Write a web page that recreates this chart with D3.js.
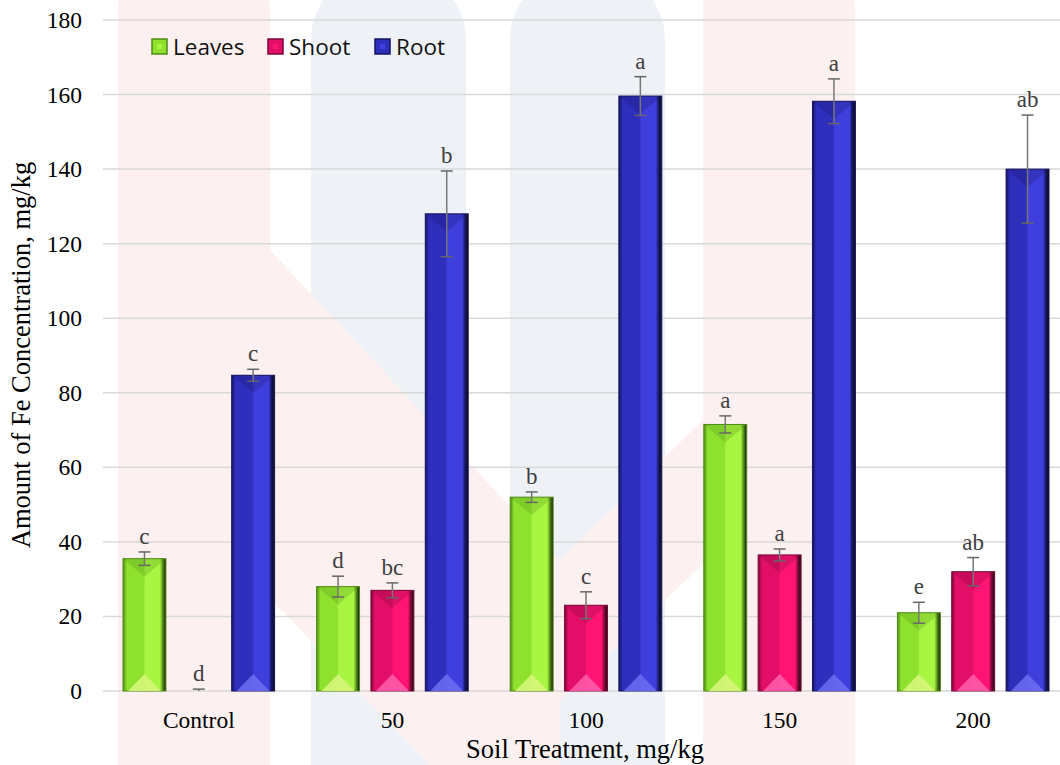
<!doctype html>
<html lang="en">
<head>
<meta charset="UTF-8" />
<title>Fe concentration</title>
<style>
    body { margin: 0; background: #fff; }
    #chart-container { position: relative; }
    .tick-label { font-family: 'Liberation Serif', 'Times New Roman', serif; font-size: 23.5px; fill: #000; }
    .axis-title { font-family: 'Liberation Serif', 'Times New Roman', serif; font-size: 26.5px; fill: #000; }
    .sig-label { font-family: 'Liberation Serif', 'Times New Roman', serif; font-size: 23px; fill: #404040; }
    .legend-label { font-family: 'Open Sans', 'Liberation Sans', sans-serif; font-size: 22.5px; fill: #111; }
</style>
<script src="https://d3js.org/d3.v7.min.js"></script>
</head>
<body>
<div id="chart-container"></div>
<script>
var categories = ['Control', '50', '100', '150', '200'];
var series = ['Leaves', 'Shoot', 'Root'];
var leaves = [35.5, 28, 52, 71.5, 21];
var shoot = [0, 27, 23, 36.5, 32];
var root = [84.7, 128, 159.6, 158.2, 140];
var leavesErr = [1.8, 2.8, 1.4, 2.3, 2.8];
var shootErr = [0.5, 2, 3.6, 1.6, 3.8];
var rootErr = [1.6, 11.5, 5.2, 6, 14.5];
var leavesSig = ['c', 'd', 'b', 'a', 'e'];
var shootSig = ['d', 'bc', 'c', 'a', 'ab'];
var rootSig = ['c', 'b', 'a', 'a', 'ab'];
var yTicks = [0, 20, 40, 60, 80, 100, 120, 140, 160, 180];

var canvasWidth = 1060;
var canvasHeight = 765;

var colors = {
    Leaves: { base: '#8ee22e', light: '#a8f642', dark: '#4f8a14', tri: '#d6f57a' },
    Shoot: { base: '#e20e68', light: '#ff1474', dark: '#7a0836', tri: '#ff5aa8' },
    Root: { base: '#2f2fbe', light: '#3f3fde', dark: '#14145e', tri: '#6a6af0' }
};

var valuesBySeries = { Leaves: leaves, Shoot: shoot, Root: root };
var errBySeries = { Leaves: leavesErr, Shoot: shootErr, Root: rootErr };
var sigBySeries = { Leaves: leavesSig, Shoot: shootSig, Root: rootSig };

var data = [];
categories.forEach(function (c, i) {
    series.forEach(function (s) {
        data.push({ cat: c, series: s, value: valuesBySeries[s][i], err: errBySeries[s][i], sig: sigBySeries[s][i] });
    });
});

var svg = d3.select('#chart-container')
    .append('svg')
    .attr('width', canvasWidth)
    .attr('height', canvasHeight);

var defs = svg.append('defs');
series.forEach(function (s) {
    var g = defs.append('linearGradient')
        .attr('id', 'grad-' + s)
        .attr('x1', '0%').attr('x2', '100%').attr('y1', '0%').attr('y2', '0%');
    g.append('stop').attr('offset', '0%').attr('stop-color', colors[s].dark);
    g.append('stop').attr('offset', '9%').attr('stop-color', colors[s].base);
    g.append('stop').attr('offset', '48%').attr('stop-color', colors[s].base);
    g.append('stop').attr('offset', '52%').attr('stop-color', colors[s].light);
    g.append('stop').attr('offset', '86%').attr('stop-color', colors[s].light);
    g.append('stop').attr('offset', '93%').attr('stop-color', colors[s].dark);
    g.append('stop').attr('offset', '100%').attr('stop-color', '#111');
});

// faint watermark shapes in the background
var wm = svg.append('g');
wm.append('rect').attr('x', 118).attr('y', -60).attr('width', 152).attr('height', 900).attr('rx', 70).attr('fill', '#fdf0f0');
wm.append('rect').attr('x', 311).attr('y', -30).attr('width', 155).attr('height', 900).attr('rx', 70).attr('fill', '#eef2f7');
wm.append('rect').attr('x', 510).attr('y', -30).attr('width', 155).attr('height', 900).attr('rx', 70).attr('fill', '#eef2f7');
wm.append('rect').attr('x', 703).attr('y', -60).attr('width', 152).attr('height', 900).attr('rx', 70).attr('fill', '#fdf0f0');
wm.append('path').attr('d', 'M118,330 L270,250 L560,560 L560,765 L430,765 L118,440 Z').attr('fill', '#fdf0f0');
wm.append('path').attr('d', 'M855,260 L703,330 L703,420 L560,560 L560,700 L855,420 Z').attr('fill', '#fdf0f0');

var x0 = d3.scaleBand().domain(categories).range([102, 1070]).padding(0);
var x1 = d3.scaleBand().domain(series).range([21, x0.bandwidth() - 21]).paddingInner(0.21);
var y = d3.scaleLinear().domain([0, 180]).range([691, 20]);

// gridlines
svg.append('g').selectAll('line')
    .data(yTicks)
    .enter()
    .append('line')
    .attr('x1', 103).attr('x2', canvasWidth)
    .attr('y1', function (d) { return y(d); })
    .attr('y2', function (d) { return y(d); })
    .attr('stroke', '#d9d9d9')
    .attr('stroke-width', 1.5);

// y tick labels
svg.append('g').selectAll('text')
    .data(yTicks)
    .enter()
    .append('text')
    .attr('class', 'tick-label')
    .attr('x', 82)
    .attr('y', function (d) { return y(d) + 8; })
    .attr('text-anchor', 'end')
    .text(function (d) { return d; });

// category labels
svg.append('g').selectAll('text')
    .data(categories)
    .enter()
    .append('text')
    .attr('class', 'tick-label')
    .attr('x', function (d) { return x0(d) + x0.bandwidth() / 2; })
    .attr('y', 728)
    .attr('text-anchor', 'middle')
    .text(function (d) { return d; });

svg.append('text')
    .attr('class', 'axis-title')
    .attr('x', 585)
    .attr('y', 758)
    .attr('text-anchor', 'middle')
    .text('Soil Treatment, mg/kg');

svg.append('text')
    .attr('class', 'axis-title')
    .attr('transform', 'translate(30,355) rotate(-90)')
    .attr('text-anchor', 'middle')
    .text('Amount of Fe Concentration, mg/kg');

// bars
var bars = svg.append('g').selectAll('g.bar')
    .data(data.filter(function (d) { return d.value > 0; }))
    .enter()
    .append('g')
    .attr('class', 'bar')
    .attr('transform', function (d) { return 'translate(' + (x0(d.cat) + x1(d.series)) + ',0)'; });

bars.append('rect')
    .attr('x', 0)
    .attr('y', function (d) { return y(d.value); })
    .attr('width', x1.bandwidth())
    .attr('height', function (d) { return y(0) - y(d.value); })
    .attr('fill', function (d) { return 'url(#grad-' + d.series + ')'; })
    .attr('stroke', function (d) { return colors[d.series].dark; })
    .attr('stroke-width', 1);

// top bevel
bars.append('path')
    .attr('d', function (d) {
        var w = x1.bandwidth(), t = y(d.value);
        return 'M0,' + t + ' L' + w + ',' + t + ' L' + (w / 2) + ',' + (t + 18) + ' Z';
    })
    .attr('fill', function (d) { return colors[d.series].dark; })
    .attr('opacity', 0.25);

// bottom triangle highlight
bars.append('path')
    .attr('d', function (d) {
        var w = x1.bandwidth(), b = y(0);
        return 'M5,' + b + ' L' + (w / 2) + ',' + (b - 17) + ' L' + (w - 5) + ',' + b + ' Z';
    })
    .attr('fill', function (d) { return colors[d.series].tri; })
    .attr('opacity', 0.9);

// error bars (all points, including zero)
var eb = svg.append('g').selectAll('g.err')
    .data(data)
    .enter()
    .append('g')
    .attr('class', 'err')
    .attr('transform', function (d) { return 'translate(' + (x0(d.cat) + x1(d.series) + x1.bandwidth() / 2) + ',0)'; });

eb.append('line')
    .attr('x1', 0).attr('x2', 0)
    .attr('y1', function (d) { return y(d.value + d.err); })
    .attr('y2', function (d) { return y(Math.max(0, d.value - d.err)); })
    .attr('stroke', '#777').attr('stroke-width', 1.5);

eb.selectAll('line.cap')
    .data(function (d) { return d.value > 0 ? [d.value + d.err, d.value - d.err] : [d.value + d.err]; })
    .enter()
    .append('line')
    .attr('class', 'cap')
    .attr('x1', -6).attr('x2', 6)
    .attr('y1', function (v) { return y(v); })
    .attr('y2', function (v) { return y(v); })
    .attr('stroke', '#666').attr('stroke-width', 1.5);

eb.append('text')
    .attr('class', 'sig-label')
    .attr('x', 0)
    .attr('y', function (d) { return y(d.value + d.err) - 8; })
    .attr('text-anchor', 'middle')
    .text(function (d) { return d.sig; });

// legend
var legendX = [152, 268, 375];
var legend = svg.append('g').selectAll('g.legend')
    .data(series)
    .enter()
    .append('g')
    .attr('transform', function (d, i) { return 'translate(' + legendX[i] + ',39)'; });

legend.append('rect')
    .attr('width', 15).attr('height', 15)
    .attr('fill', function (d) { return colors[d].base; })
    .attr('stroke', function (d) { return colors[d].dark; })
    .attr('stroke-width', 1.5);

legend.append('rect')
    .attr('x', 5).attr('y', 5)
    .attr('width', 5).attr('height', 5)
    .attr('fill', function (d) { return colors[d].light; });

legend.append('text')
    .attr('class', 'legend-label')
    .attr('x', 21)
    .attr('y', 16)
    .text(function (d) { return d; });
</script>
</body>
</html>
